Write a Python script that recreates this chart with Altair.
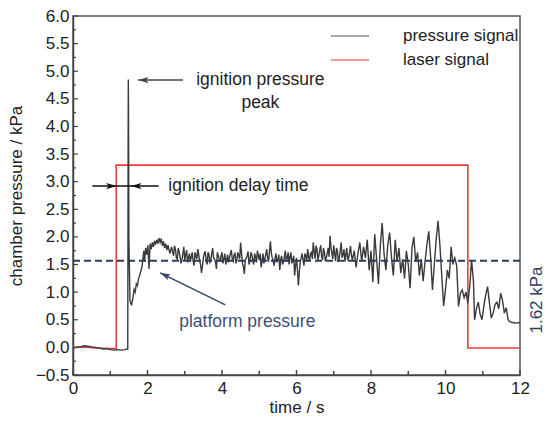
import altair as alt
import pandas as pd

# ---------------- data ----------------
# pressure signal (coarse read of the trace)
pressure_t = [0.00, 0.10, 0.20, 0.30, 0.40, 0.50, 0.60, 0.70, 0.80, 0.90, 1.00, 1.10, 1.20, 1.30, 1.40, 1.45, 1.47,
              1.48, 1.485, 1.49, 1.50, 1.53, 1.57, 1.61, 1.64, 1.67, 1.70, 1.73, 1.76, 1.79, 1.82, 1.85, 1.88,
              1.90, 1.92, 1.95, 1.98, 2.01, 2.04, 2.07, 2.10, 2.13, 2.16, 2.19, 2.22, 2.25, 2.28, 2.31, 2.34,
              2.37, 2.40, 2.43, 2.46, 2.49, 2.52, 2.55,
              2.60, 2.65, 2.70, 2.75, 2.80, 2.85, 2.90, 2.95, 3.00, 3.05, 3.10, 3.15, 3.20, 3.25, 3.30, 3.35,
              3.40, 3.45, 3.50, 3.55, 3.60, 3.65, 3.70, 3.75, 3.80, 3.85, 3.90, 3.95, 4.00, 4.05, 4.10, 4.15,
              4.20, 4.25, 4.30, 4.35, 4.40, 4.45, 4.50, 4.55, 4.60, 4.65, 4.70, 4.75, 4.80, 4.85, 4.90, 4.95,
              5.00, 5.05, 5.10, 5.15, 5.20, 5.25, 5.30, 5.35, 5.40, 5.45, 5.50, 5.55, 5.60, 5.65, 5.70, 5.75,
              5.80, 5.85, 5.90, 5.95, 6.00, 6.05, 6.10, 6.15, 6.20, 6.25, 6.30, 6.35, 6.40, 6.45, 6.50, 6.55,
              6.60, 6.65, 6.70, 6.75, 6.80, 6.85, 6.90, 6.95, 7.00, 7.05, 7.10, 7.15, 7.20, 7.25, 7.30, 7.35,
              7.40, 7.45, 7.50, 7.55, 7.60, 7.65, 7.70, 7.75, 7.80, 7.85, 7.90, 7.95, 8.00, 8.05, 8.10, 8.15,
              8.20, 8.25, 8.30, 8.35, 8.40, 8.45, 8.50, 8.55, 8.60, 8.65, 8.70, 8.75, 8.80, 8.85, 8.90, 8.95,
              9.00, 9.05, 9.10, 9.15, 9.20, 9.25, 9.30, 9.35, 9.40, 9.45, 9.50, 9.55, 9.60, 9.65, 9.70, 9.75,
              9.80, 9.85, 9.90, 9.95, 10.00, 10.05, 10.10, 10.15, 10.20, 10.25, 10.30, 10.35, 10.40, 10.45,
              10.50, 10.55, 10.60, 10.65, 10.70, 10.75, 10.78, 10.83, 10.88, 10.93, 10.98, 11.03, 11.08,
              11.13, 11.18, 11.23, 11.28, 11.33, 11.38, 11.43, 11.48, 11.53, 11.58, 11.63, 11.68, 11.73,
              11.80, 11.90, 12.00]
pressure_v = [-0.01, 0.00, 0.01, 0.03, 0.02, 0.01, 0.00, -0.01, -0.03, -0.02, -0.04, -0.05, -0.04, -0.05, -0.04, -0.03, -0.03,
              3.65, 4.85, 4.35, 2.00, 0.85, 0.76, 0.90, 1.05, 1.00, 1.15, 1.12, 1.25, 1.30, 1.38, 1.45, 1.62,
              1.75, 1.55, 1.80, 1.68, 1.85, 1.42, 1.88, 1.78, 1.90, 1.82, 1.93, 1.86, 1.95, 1.88, 1.98, 1.90,
              1.97, 1.84, 1.92, 1.80, 1.88, 1.76, 1.85,
              1.70, 1.82, 1.66, 1.78, 1.60, 1.74, 1.52, 1.70, 1.58, 1.76, 1.62, 1.55, 1.72, 1.48, 1.66, 1.78,
              1.56, 1.35, 1.62, 1.74, 1.50, 1.68, 1.58, 1.80, 1.60, 1.42, 1.66, 1.55, 1.72, 1.60, 1.50, 1.68,
              1.62, 1.76, 1.56, 1.70, 1.58, 1.66, 1.90, 1.52, 1.33, 1.62, 1.74, 1.56, 1.68, 1.50, 1.64, 1.75,
              1.58, 1.45, 1.70, 1.60, 1.78, 1.55, 1.92, 1.62, 1.48, 1.70, 1.58, 1.40, 1.66, 1.55, 1.75, 1.62,
              1.50, 1.72, 1.58, 1.30, 1.62, 1.12, 1.55, 1.70, 1.48, 1.66, 1.78, 1.56, 1.72, 1.90, 1.60, 1.78,
              1.66, 1.85, 1.58, 1.72, 1.62, 1.80, 2.02, 1.70, 1.85, 1.56, 1.74, 1.62, 1.90, 1.68, 1.55, 1.80,
              1.62, 1.84, 1.58, 1.75, 1.45, 1.70, 1.90, 1.55, 1.82, 1.62, 1.95, 1.40, 1.75, 1.18, 2.05, 1.60,
              1.15, 1.85, 2.25, 1.70, 1.40, 1.85, 2.08, 1.62, 1.30, 1.95, 1.55, 1.80, 1.35, 1.60, 1.25, 1.75,
              1.50, 1.07, 1.80, 2.00, 1.55, 1.72, 1.30, 1.60, 1.20, 1.55, 1.85, 2.10, 1.65, 1.04, 1.50, 1.95,
              2.29, 1.85, 1.30, 0.75, 1.05, 1.40, 1.25, 1.82, 1.50, 1.62, 1.48, 0.74, 0.98, 1.04,
              0.90, 1.00, 0.80, 1.10, 1.58, 1.20, 0.50, 0.70, 0.82, 0.60, 0.50, 0.75, 0.95,
              1.10, 0.80, 0.53, 0.62, 0.78, 0.82, 0.70, 0.98, 0.85, 0.62, 0.72, 0.50, 0.46,
              0.45, 0.44, 0.45]

# extra readings of the dense plateau section (between the coarse samples)
plateau_t = [2.625, 2.675, 2.725, 2.775, 2.825, 2.875, 2.925, 2.975, 3.025, 3.075,
             3.125, 3.175, 3.225, 3.275, 3.325, 3.375, 3.425, 3.475, 3.525, 3.575,
             3.625, 3.675, 3.725, 3.775, 3.825, 3.875, 3.925, 3.975, 4.025, 4.075,
             4.125, 4.175, 4.225, 4.275, 4.325, 4.375, 4.425, 4.475, 4.525, 4.575,
             4.625, 4.675, 4.725, 4.775, 4.825, 4.875, 4.925, 4.975, 5.025, 5.075,
             5.125, 5.175, 5.225, 5.275, 5.325, 5.375, 5.425, 5.475, 5.525, 5.575,
             5.625, 5.675, 5.725, 5.775, 5.825, 5.875, 5.925, 5.975, 6.025, 6.075,
             6.125, 6.175, 6.225, 6.275, 6.325, 6.375, 6.425, 6.475, 6.525, 6.575,
             6.625, 6.675, 6.725, 6.775, 6.825, 6.875, 6.925, 6.975, 7.025, 7.075,
             7.125, 7.175, 7.225, 7.275, 7.325, 7.375, 7.425, 7.475]
plateau_v = [1.76, 1.72, 1.84, 1.62, 1.80, 1.64, 1.58, 1.82, 1.68, 1.54,
             1.70, 1.64, 1.56, 1.72, 1.60, 1.68, 1.50, 1.48, 1.70, 1.58,
             1.72, 1.54, 1.70, 1.62, 1.55, 1.72, 1.60, 1.66, 1.52, 1.70,
             1.58, 1.54, 1.70, 1.60, 1.68, 1.52, 1.72, 1.60, 1.70, 1.46,
             1.58, 1.66, 1.50, 1.72, 1.58, 1.70, 1.54, 1.66, 1.70, 1.56,
             1.52, 1.68, 1.62, 1.74, 1.70, 1.56, 1.62, 1.54, 1.68, 1.58,
             1.50, 1.64, 1.56, 1.72, 1.64, 1.52, 1.66, 1.48, 1.40, 1.36,
             1.62, 1.58, 1.70, 1.56, 1.64, 1.70, 1.60, 1.74, 1.84, 1.58,
             1.76, 1.64, 1.80, 1.56, 1.70, 1.64, 1.82, 1.60, 1.70, 1.80,
             1.55, 1.76, 1.62, 1.78, 1.68, 1.58, 1.72, 1.66]

laser_t = [0.00, 0.30, 0.60, 0.90, 1.16, 1.16, 10.60, 10.60, 11.00, 11.50, 12.00]
laser_v = [0.00, 0.01, -0.01, -0.02, -0.02, 3.30, 3.30, -0.01, -0.01, -0.01, -0.01]

platform_level = 1.57
platform_label = "1.62 kPa"

x_major = [0, 2, 4, 6, 8, 10, 12]
x_minor = [1, 3, 5, 7, 9, 11]
y_major = [-0.5, 0.0, 0.5, 1.0, 1.5, 2.0, 2.5, 3.0, 3.5, 4.0, 4.5, 5.0, 5.5, 6.0]
y_minor = [-0.25, 0.25, 0.75, 1.25, 1.75, 2.25, 2.75, 3.25, 3.75, 4.25, 4.75, 5.25, 5.75]

legend_labels = ["pressure signal", "laser signal"]

# ---------------- layout ----------------
W, H = 447, 359
FONT = "Liberation Sans"
FS = 17
xs = alt.Scale(domain=[0, 12], nice=False)
ys = alt.Scale(domain=[-0.5, 6], nice=False)

x_axis = alt.Axis(title="time / s", values=x_major, ticks=False, tickSize=0, grid=False, labelFont=FONT,
                  labelFontSize=FS, titleFont=FONT, titleFontSize=FS, titleFontWeight="normal",
                  labelColor="#222", titleColor="#222", labelPadding=5, titlePadding=3,
                  domainColor="#444", domainWidth=1.5, labelFlush=False)
y_axis = alt.Axis(title="chamber pressure / kPa", values=y_major, format=".1f", ticks=False, tickSize=0,
                  grid=False, labelFont=FONT, labelFontSize=FS, titleFont=FONT, titleFontSize=FS,
                  titleFontWeight="normal", labelColor="#222", titleColor="#222", labelPadding=4,
                  titlePadding=10, domainColor="#444", domainWidth=1.5, labelFlush=False)


def X(f):
    return alt.X(f, scale=xs, axis=x_axis)


def Y(f):
    return alt.Y(f, scale=ys, axis=y_axis)


pdf = pd.concat([
    pd.DataFrame({"t": pressure_t, "p": pressure_v}),
    pd.DataFrame({"t": plateau_t, "p": plateau_v}),
]).sort_values("t").reset_index(drop=True)
ldf = pd.DataFrame({"t": laser_t, "p": laser_v, "i": list(range(len(laser_t)))})

laser = alt.Chart(ldf).mark_line(color="#f23c3c", strokeWidth=1.6).encode(
    x=X("t:Q"), y=Y("p:Q"), order="i:Q")

pressure = alt.Chart(pdf).mark_line(color="#3a3a3a", strokeWidth=1.4).encode(x=X("t:Q"), y=Y("p:Q"))

dash = alt.Chart(pd.DataFrame({"lvl": [platform_level]})).mark_rule(
    color="#2b3d5e", strokeWidth=2, strokeDash=[7, 4]
).encode(y=Y("lvl:Q"))

dash_label = alt.Chart(pd.DataFrame({"lbl": [platform_label]})).mark_text(
    angle=270, font=FONT, fontSize=FS, color="#2b3d5e", align="center", baseline="middle"
).encode(x=alt.value(W + 17), y=alt.value(284), text="lbl:N")


# inward ticks
def xticks(vals, length):
    return alt.Chart(pd.DataFrame({"t": vals})).mark_rule(color="#444", strokeWidth=1.5).encode(
        x=X("t:Q"), y=alt.value(H), y2=alt.value(H - length))


def yticks(vals, length):
    return alt.Chart(pd.DataFrame({"p": vals})).mark_rule(color="#444", strokeWidth=1.2).encode(
        y=Y("p:Q"), x=alt.value(0), x2=alt.value(length))


# annotations
seg = pd.DataFrame({
    "t": [1.75, 0.52, 4.09],
    "p": [4.84, 2.92, 0.77],
    "t2": [2.95, 2.30, 2.34],
    "p2": [4.84, 2.92, 1.35],
    "c": ["#444444", "#111111", "#34466a"],
})
segs = alt.Chart(seg).mark_rule(strokeWidth=1.5).encode(
    x=X("t:Q"), y=Y("p:Q"), x2="t2:Q", y2="p2:Q", color=alt.Color("c:N", scale=None))

ARROW = "M0,0L0.6,2L0,1.5L-0.6,2Z"
heads = pd.DataFrame({
    "t": [1.75, 1.17, 1.56, 2.34],
    "p": [4.84, 2.92, 2.92, 1.35],
    "a": [270, 90, 270, 296],
    "c": ["#444444", "#111111", "#111111", "#34466a"],
})
arrowheads = alt.Chart(heads).mark_point(shape=ARROW, size=110, filled=True, opacity=1).encode(
    x=X("t:Q"), y=Y("p:Q"), angle=alt.Angle("a:Q", scale=None), color=alt.Color("c:N", scale=None))

texts = pd.DataFrame({
    "t": [5.03, 5.03, 2.56, 4.68],
    "p": [4.84, 4.42, 2.92, 0.46],
    "txt": ["ignition pressure", "peak", "ignition delay time", "platform pressure"],
    "al": ["center", "center", "left", "center"],
    "c": ["#222222", "#222222", "#222222", "#3e5073"],
})


def text_layer(d, align):
    return alt.Chart(d).mark_text(font=FONT, fontSize=FS + 0.5, align=align, baseline="middle").encode(
        x=X("t:Q"), y=Y("p:Q"), text="txt:N", color=alt.Color("c:N", scale=None))


t_center = text_layer(texts[texts.al == "center"], "center")
t_left = text_layer(texts[texts.al == "left"], "left")

# legend (drawn inside the frame, top right)
leg_colors = ["#8a8a8a", "#f07575"]
leg_rows = [20, 44]
leg_layers = []
for lab, col, yy in zip(legend_labels, leg_colors, leg_rows):
    d = pd.DataFrame({"lab": [lab]})
    leg_layers.append(alt.Chart(d).mark_rule(strokeWidth=1.6, color=col).encode(
        x=alt.value(258), x2=alt.value(296), y=alt.value(yy)))
    leg_layers.append(alt.Chart(d).mark_text(font=FONT, fontSize=FS, align="left", baseline="middle",
                                             color="#222").encode(
        x=alt.value(330), y=alt.value(yy), text="lab:N"))

chart = alt.layer(
    laser, pressure, dash, dash_label,
    xticks(x_major, 5), xticks(x_minor, 4), yticks(y_major, 5), yticks(y_minor, 3),
    segs, arrowheads, t_center, t_left, *leg_layers,
).properties(
    width=W, height=H,
    autosize=alt.AutoSizeParams(type="none"),
    padding={"left": 73, "top": 16, "right": 31, "bottom": 50},
    background="white",
).configure_view(stroke="#555", strokeWidth=1.5)

chart.save("out.html", embed_options={"renderer": "svg", "actions": False})
